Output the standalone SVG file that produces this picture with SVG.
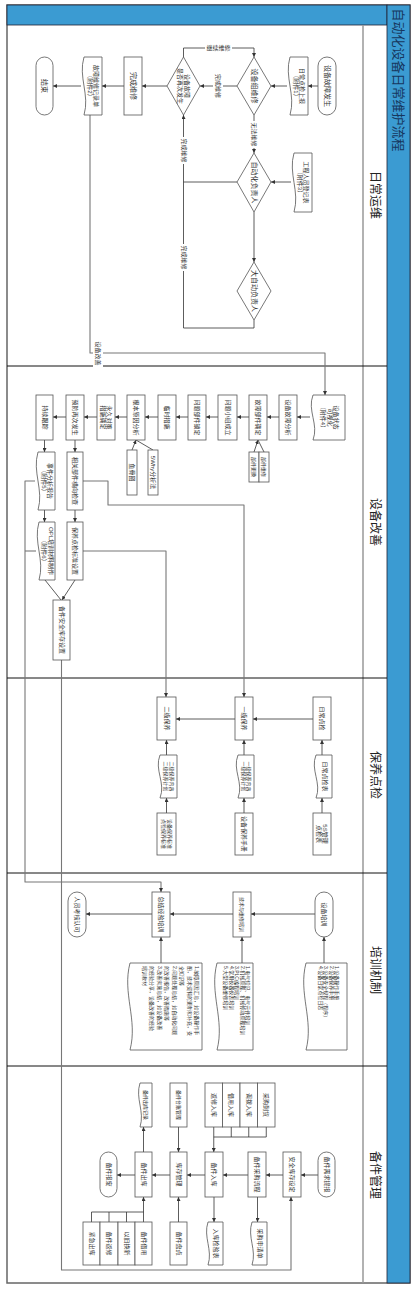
<svg xmlns="http://www.w3.org/2000/svg" width="417" height="1291" viewBox="0 0 417 1291">
<style>
.n{fill:#fff;stroke:#555;stroke-width:0.8}
.t{font-family:"Liberation Sans","Noto Sans CJK SC",sans-serif;font-size:6px;fill:#333;text-anchor:middle;dominant-baseline:central}
.t7{font-size:7px}
.t5{font-size:5px}
.ts{text-anchor:start}
.c{fill:none;stroke:#333;stroke-width:0.8;marker-end:url(#a)}
.l{fill:none;stroke:#333;stroke-width:0.8}
.g{fill:none;stroke:#777;stroke-width:1.1;stroke-linejoin:round}
.ga{marker-end:url(#a)}
.lb{fill:#fff;stroke:none}
.lane{font-family:"Liberation Sans","Noto Sans CJK SC",sans-serif;font-size:12px;fill:#222;text-anchor:middle;dominant-baseline:central}
</style>
<defs>
<marker id="a" markerWidth="4" markerHeight="4" refX="4" refY="2" orient="auto" markerUnits="userSpaceOnUse"><path d="M0,0 L4,2 L0,4 Z" fill="#333"/></marker>
</defs>
<rect x="0" y="0" width="417" height="1291" fill="#fff"/>
<g id="frame">
<rect x="7" y="5" width="403" height="1278" fill="#fff" stroke="#666" stroke-width="1.5"/>
<rect x="7" y="5" width="380" height="20" fill="#3B9BD2" stroke="#223" stroke-width="0.8"/>
<rect x="387" y="5" width="23" height="1278" fill="#3B9BD2" stroke="#223" stroke-width="0.8"/>
<line x1="363" y1="25" x2="363" y2="1283" stroke="#999" stroke-width="1.5"/>
<g stroke="#111" stroke-width="1">
<line x1="7" y1="366" x2="387" y2="366"/>
<line x1="7" y1="678" x2="387" y2="678"/>
<line x1="7" y1="873" x2="387" y2="873"/>
<line x1="7" y1="1066" x2="387" y2="1066"/>
</g>
<text class="lane" transform="translate(398.5,80) rotate(90)" style="font-size:13px;fill:#17375E">自动化设备日常维护流程</text>
<text class="lane" transform="translate(375,195) rotate(90)">日常运维</text>
<text class="lane" transform="translate(375,522) rotate(90)">设备改善</text>
<text class="lane" transform="translate(375,775) rotate(90)">保养点检</text>
<text class="lane" transform="translate(375,970) rotate(90)">培训机制</text>
<text class="lane" transform="translate(375,1175) rotate(90)">备件管理</text>
</g>

<g id="connectors">
<path class="c" d="M318,86 H308"/>
<path class="c" d="M287,86 H271"/>
<path class="c" d="M237,86 H200"/>
<path class="c" d="M167,86 H142"/>
<path class="c" d="M124,86 H102"/>
<path class="c" d="M81,86 H53"/>
<path class="c" d="M183.5,57 V48 H254 V57"/>
<path class="c" d="M254,115 V153"/>
<path class="c" d="M291,182 H271"/>
<path class="c" d="M237,182 H183.5 V115"/>
<path class="c" d="M254,212 V262"/>
<path class="l" d="M254,320 V328 H183.5 V182"/>
<path class="g ga" d="M90,115 V353 H325 V395"/>
<path class="c" d="M310,417 H297"/>
<path class="c" d="M279,417 H267"/>
<path class="c" d="M249,417 H237"/>
<path class="c" d="M218,417 H206"/>
<path class="c" d="M188,417 H176"/>
<path class="c" d="M158,417 H145"/>
<path class="c" d="M127,417 H115"/>
<path class="c" d="M97,417 H84"/>
<path class="c" d="M66,417 H53"/>
<path class="c" d="M254,452 L258,440"/>
<path class="l" d="M264,452 L258,440"/>
<path class="c" d="M132,450 L136,440"/>
<path class="l" d="M153,450 L136,440"/>
<path class="c" d="M75,440 V452"/>
<path class="c" d="M44.5,440 V452"/>
<path class="c" d="M75,510 V522"/>
<path class="c" d="M44.5,510 V522"/>
<path class="c" d="M75,580 L62,600"/>
<path class="l" d="M45,580 L61,600"/>
<path class="g ga" d="M83,481 H108 V505 H244 V697"/>
<path class="g ga" d="M83,551 H166 V697"/>
<path class="g ga" d="M35,481 H25 V882 H161 V892"/>
<path class="g" d="M36,551 H25"/>
<path class="g ga" d="M61.5,660 V1270 H291 V1197"/>
<path class="c" d="M313,719 H253"/>
<path class="c" d="M235,719 H176"/>
<path class="c" d="M322,813 V798"/>
<path class="c" d="M322,755 V740"/>
<path class="c" d="M244,813 V798"/>
<path class="c" d="M244,755 V740"/>
<path class="c" d="M166.5,813 V798"/>
<path class="c" d="M166.5,755 V740"/>
<path class="c" d="M315,914 H251"/>
<path class="c" d="M233,914 H170"/>
<path class="c" d="M152,914 H86"/>
<path class="c" d="M324,963 V937"/>
<path class="c" d="M242,963 V937"/>
<path class="c" d="M161,963 V937"/>
<path class="c" d="M318,1175 H301"/>
<path class="c" d="M283,1175 H266"/>
<path class="c" d="M248,1175 H223"/>
<path class="c" d="M205,1175 H187"/>
<path class="c" d="M170,1175 H152"/>
<path class="c" d="M135,1175 H117"/>
<path class="c" d="M213.75,1127 V1152"/>
<path class="l" d="M266.25,1127 V1137 H213.75 M231.25,1127 V1137 M248.75,1127 V1137"/>
<path class="c" d="M178.5,1127 V1152"/>
<path class="c" d="M143.5,1152 V1127"/>
<path class="c" d="M143.5,1222 V1197"/>
<path class="l" d="M91.5,1222 V1212 H143.5 M109,1222 V1212 M126.5,1222 V1212"/>
<path class="c" d="M178.5,1222 V1197"/>
<path class="c" d="M214,1197 V1222"/>
<path class="c" d="M257.5,1197 V1222"/>
<rect class="lb" x="213" y="71" width="10" height="30"/>
<text class="t" transform="translate(218,86) rotate(90)">完成维修</text>
<rect class="lb" x="249" y="121" width="10" height="27"/>
<text class="t" transform="translate(254,134.5) rotate(90)">无法维修</text>
<rect class="lb" x="178.5" y="137" width="10" height="27"/>
<text class="t" transform="translate(183.5,150.5) rotate(90)">完成维修</text>
<rect class="lb" x="178.5" y="244" width="10" height="27"/>
<text class="t" transform="translate(183.5,257.5) rotate(90)">完成维修</text>
<rect class="lb" x="205" y="44" width="27" height="8"/>
<text class="t" x="218.5" y="48">继续维修</text>
<rect class="lb" x="93" y="340" width="10" height="27"/>
<text class="t" transform="translate(98,353.5) rotate(90)">设备改善</text>
</g>

<g id="n-fault"><rect class="n" x="318" y="57" width="18" height="58" rx="9"/><text class="t t7" transform="translate(327,86) rotate(90)">设备故障发生</text></g>
<g id="n-report1"><path class="n" d="M290,57 H308 V115 H290 C296,94.7 284,77.3 290,57 Z"/><text class="t" transform="translate(299,86) rotate(90)"><tspan x="0" dy="-3">日常点检上报</tspan><tspan x="0" dy="6.5">（附件1）</tspan></text></g>
<g id="n-repair"><path class="n" d="M254,57 L271,86 L254,115 L237,86 Z"/><text class="t t7" transform="translate(254,86) rotate(90)">设备组维修</text></g>
<g id="n-again"><path class="n" d="M183.5,57 L200,86 L183.5,115 L167,86 Z"/><text class="t" transform="translate(183.5,86) rotate(90)"><tspan x="0" dy="-3.5">设备故障</tspan><tspan x="0" dy="7">是否再次发生</tspan></text></g>
<g id="n-done"><rect class="n" x="124" y="57" width="18" height="58"/><text class="t t7" transform="translate(133,86) rotate(90)">完成维修</text></g>
<g id="n-record"><path class="n" d="M84,57 H102 V115 H84 C90,94.7 78,77.3 84,57 Z"/><text class="t" transform="translate(93,86) rotate(90)"><tspan x="0" dy="-3">故障维修记录单</tspan><tspan x="0" dy="6.5">（附件2）</tspan></text></g>
<g id="n-end"><rect class="n" x="36" y="57" width="17" height="58" rx="8.5"/><text class="t t7" transform="translate(44.5,86) rotate(90)">结束</text></g>
<g id="n-auto"><path class="n" d="M254,153 L271,182 L254,212 L237,182 Z"/><text class="t t7" transform="translate(254,182.5) rotate(90)">自动化负责人</text></g>
<g id="n-report3"><path class="n" d="M294,153 H312 V212 H294 C300,191.35 288,173.65 294,153 Z"/><text class="t" transform="translate(303,182.5) rotate(90)"><tspan x="0" dy="-3">工程人员登记表</tspan><tspan x="0" dy="6.5">（附件3）</tspan></text></g>
<g id="n-big"><path class="n" d="M254,262 L271,291 L254,320 L237,291 Z"/><text class="t t7" transform="translate(254,291) rotate(90)">大自动负责人</text></g>

<g id="n-vis"><path class="n" d="M313,395 H345 V440 H313 C319,424.25 307,410.75 313,395 Z"/><text class="t" transform="translate(329.5,417.5) rotate(90)"><tspan x="0" dy="-6.5">设备状态</tspan><tspan x="0" dy="6.5">可视化</tspan><tspan x="0" dy="6.5">（附件4）</tspan></text></g>
<g id="n-ana"><rect class="n" x="279" y="395" width="18" height="45"/><text class="t" transform="translate(288,417.5) rotate(90)">设备故障分析</text></g>
<g id="n-part"><rect class="n" x="249" y="395" width="18" height="45"/><text class="t" transform="translate(258,417.5) rotate(90)">故障部件确定</text></g>
<g id="n-team"><rect class="n" x="218" y="395" width="19" height="45"/><text class="t" transform="translate(227.5,417.5) rotate(90)">问题小组成立</text></g>
<g id="n-lock"><rect class="n" x="188" y="395" width="18" height="45"/><text class="t" transform="translate(197,417.5) rotate(90)">问题部件锁定</text></g>
<g id="n-temp"><rect class="n" x="158" y="395" width="18" height="45"/><text class="t" transform="translate(167,417.5) rotate(90)">临时措施</text></g>
<g id="n-root"><rect class="n" x="127" y="395" width="18" height="45"/><text class="t" transform="translate(136,417.5) rotate(90)">根本原因分析</text></g>
<g id="n-perm"><rect class="n" x="97" y="395" width="18" height="45"/><text class="t" transform="translate(106,417.5) rotate(90)"><tspan x="0" dy="-3">永久对策</tspan><tspan x="0" dy="6.5">措施确定</tspan></text></g>
<g id="n-prev"><rect class="n" x="66" y="395" width="18" height="45"/><text class="t" transform="translate(75,417.5) rotate(90)">预防再次发生</text></g>
<g id="n-track"><rect class="n" x="36" y="395" width="17" height="45"/><text class="t" transform="translate(44.5,417.5) rotate(90)">持续跟踪</text></g>
<g id="n-chg"><rect class="n" x="249" y="452" width="10" height="30"/><text class="t t5" transform="translate(254,467) rotate(90)">部件更换</text></g>
<g id="n-fix"><rect class="n" x="259" y="452" width="10" height="30"/><text class="t t5" transform="translate(264,467) rotate(90)">部件维修</text></g>
<g id="n-fish"><rect class="n" x="127" y="450" width="10" height="45"/><text class="t" transform="translate(132,472.5) rotate(90)">鱼骨图</text></g>
<g id="n-5why"><rect class="n" x="148" y="450" width="10" height="45"/><text class="t" transform="translate(153,472.5) rotate(90)">5Why分析法</text></g>
<g id="n-cross"><rect class="n" x="67" y="452" width="16" height="58"/><text class="t" transform="translate(75,481) rotate(90)">相关部件横向检查</text></g>
<g id="n-rep5"><path class="n" d="M38,452 H55 V510 H38 C44,489.7 32,472.3 38,452 Z"/><text class="t" transform="translate(47,481) rotate(90)"><tspan x="0" dy="-3">事件分析报告</tspan><tspan x="0" dy="6.5">（附件5）</tspan></text></g>
<g id="n-std"><rect class="n" x="67" y="522" width="16" height="58"/><text class="t" transform="translate(75,551) rotate(90)">保养点检标准设置</text></g>
<g id="n-opl"><path class="n" d="M39,522 H55 V580 H39 C45,559.7 33,542.3 39,522 Z"/><text class="t" transform="translate(47.5,551) rotate(90)"><tspan x="0" dy="-3">OPL培训材料制作</tspan><tspan x="0" dy="6.5">（附件6）</tspan></text></g>
<g id="n-safe"><rect class="n" x="53" y="600" width="17" height="60"/><text class="t" transform="translate(61.5,630) rotate(90)">备件安全库存设置</text></g>

<g id="n-daily"><rect class="n" x="313" y="697" width="18" height="43"/><text class="t" transform="translate(322,718.5) rotate(90)">日常点检</text></g>
<g id="n-lv1"><rect class="n" x="235" y="697" width="18" height="43"/><text class="t" transform="translate(244,718.5) rotate(90)">一级保养</text></g>
<g id="n-lv2"><rect class="n" x="157" y="697" width="19" height="43"/><text class="t" transform="translate(166.5,718.5) rotate(90)">二级保养</text></g>
<g id="n-dtab"><path class="n" d="M316,755 H332 V798 H316 C322,783 310,770 316,755 Z"/><text class="t" transform="translate(324.5,776.5) rotate(90)">日常点检表</text></g>
<g id="n-l1doc"><path class="n" d="M238,755 H254 V798 H238 C244,783 232,770 238,755 Z"/><text class="t t5" transform="translate(246.5,776.5) rotate(90)"><tspan x="0" dy="-2.8">一级保养内容</tspan><tspan x="0" dy="5.6">一级保养计划</tspan></text></g>
<g id="n-l2doc"><path class="n" d="M160,755 H177 V798 H160 C166,783 154,770 160,755 Z"/><text class="t t5" transform="translate(169,776.5) rotate(90)"><tspan x="0" dy="-2.8">二级保养内容</tspan><tspan x="0" dy="5.6">二级保养计划</tspan></text></g>
<g id="n-5s"><rect class="n" x="313" y="813" width="18" height="42"/><text class="t" transform="translate(322,834) rotate(90)"><tspan x="0" dy="-3">5S管理</tspan><tspan x="0" dy="6.5">点检表</tspan></text></g>
<g id="n-man"><rect class="n" x="235" y="813" width="18" height="42"/><text class="t" transform="translate(244,834) rotate(90)">设备保养手册</text></g>
<g id="n-mstd"><rect class="n" x="157" y="813" width="19" height="42"/><text class="t t5" transform="translate(166.5,834) rotate(90)"><tspan x="0" dy="-3">设备保养标准</tspan><tspan x="0" dy="6">点检保养标准</tspan></text></g>

<g id="n-train"><rect class="n" x="315" y="892" width="18" height="45" rx="9"/><text class="t" transform="translate(324,914.5) rotate(90)">设备培训</text></g>
<g id="n-skill"><rect class="n" x="233" y="892" width="18" height="45"/><text class="t t5" transform="translate(242,914.5) rotate(90)">技术与维修培训</text></g>
<g id="n-sum"><rect class="n" x="152" y="892" width="18" height="45"/><text class="t" transform="translate(161,914.5) rotate(90)">总结经验培训</text></g>
<g id="n-eval"><rect class="n" x="68" y="892" width="18" height="45" rx="9"/><text class="t" transform="translate(77,914.5) rotate(90)">人员考核认可</text></g>
<g id="n-tdoc1"><path class="n" d="M306,963 H347 V1050 H306 C314,1019.5 298,993.5 306,963 Z"/><text class="t t5 ts" transform="translate(337,966) rotate(90)"><tspan x="0" dy="0">1.设备操作手册</tspan><tspan x="0" dy="5.5">2.设备保养手册</tspan><tspan x="0" dy="5.5">3.设备安全规程（程序）</tspan><tspan x="0" dy="5.5">4.设备日常点检日志</tspan></text></g>
<g id="n-tdoc2"><path class="n" d="M217,963 H253 V1050 H217 C225,1019.5 209,993.5 217,963 Z"/><text class="t t5 ts" transform="translate(248,966) rotate(90)"><tspan x="0" dy="0">1.电气知识、电气元件培训</tspan><tspan x="0" dy="5.5">2.机械原理、机械传动原理培训</tspan><tspan x="0" dy="5.5">3.PLC编程培训</tspan><tspan x="0" dy="5.5">4.常用仪器仪表培训</tspan><tspan x="0" dy="5.5">5.大型设备维修培训</tspan></text></g>
<g id="n-tdoc3"><path class="n" d="M130,963 H202 V1050 H130 C138,1019.5 122,993.5 130,963 Z"/><text class="t t5 ts" transform="translate(197,966) rotate(90)"><tspan x="0" dy="0">1.故障原因汇总，如设备操作手</tspan><tspan x="0" dy="7.5">册，技术资料的更新和补充，安</tspan><tspan x="0" dy="7.5">全知识等</tspan><tspan x="0" dy="7.5">2.问题处理总结，如自动化问题</tspan><tspan x="0" dy="7.5">的改善报告，改善措施等</tspan><tspan x="0" dy="7.5">3.改善实施总结，如设备改善</tspan><tspan x="0" dy="7.5">的经验分享，设备改善的经验</tspan><tspan x="0" dy="7.5">培训教材</tspan></text></g>

<g id="n-req"><rect class="n" x="318" y="1152" width="17" height="45" rx="8.5"/><text class="t" transform="translate(326.5,1174.5) rotate(90)">备件需求提报</text></g>
<g id="n-safeset"><rect class="n" x="283" y="1152" width="18" height="45"/><text class="t" transform="translate(292,1174.5) rotate(90)">安全库存设定</text></g>
<g id="n-buy"><rect class="n" x="248" y="1152" width="18" height="45"/><text class="t" transform="translate(257,1174.5) rotate(90)">备件采购流程</text></g>
<g id="n-in"><rect class="n" x="205" y="1152" width="18" height="45"/><text class="t" transform="translate(214,1174.5) rotate(90)">备件入库</text></g>
<g id="n-stock"><rect class="n" x="170" y="1152" width="17" height="45"/><text class="t" transform="translate(178.5,1174.5) rotate(90)">库存管理</text></g>
<g id="n-out"><rect class="n" x="135" y="1152" width="17" height="45"/><text class="t" transform="translate(143.5,1174.5) rotate(90)">备件出库</text></g>
<g id="n-scrap"><rect class="n" x="100" y="1152" width="17" height="45" rx="8.5"/><text class="t" transform="translate(108.5,1174.5) rotate(90)">备件报废</text></g>
<g id="n-outdoc"><path class="n" d="M140,1083 H152 V1127 H140 C145,1111.6 135,1098.4 140,1083 Z"/><text class="t t5" transform="translate(146,1105) rotate(90)">备件出库记录</text></g>
<g id="n-ledger"><rect class="n" x="170" y="1083" width="17" height="44"/><text class="t t5" transform="translate(178.5,1105) rotate(90)">备件台账管理</text></g>
<g id="n-in1"><rect class="n" x="205" y="1083" width="17.5" height="44"/><text class="t" transform="translate(213.75,1105) rotate(90)">返修入库</text></g>
<g id="n-in2"><rect class="n" x="222.5" y="1083" width="17.5" height="44"/><text class="t" transform="translate(231.25,1105) rotate(90)">借用入库</text></g>
<g id="n-in3"><rect class="n" x="240" y="1083" width="17.5" height="44"/><text class="t" transform="translate(248.75,1105) rotate(90)">调拨入库</text></g>
<g id="n-in4"><rect class="n" x="257.5" y="1083" width="17.5" height="44"/><text class="t" transform="translate(266.25,1105) rotate(90)">采购到货</text></g>
<g id="n-o1"><rect class="n" x="83" y="1222" width="17" height="43"/><text class="t" transform="translate(91.5,1243.5) rotate(90)">紧急出库</text></g>
<g id="n-o2"><rect class="n" x="100" y="1222" width="18" height="43"/><text class="t" transform="translate(109,1243.5) rotate(90)">备件返修</text></g>
<g id="n-o3"><rect class="n" x="118" y="1222" width="17" height="43"/><text class="t" transform="translate(126.5,1243.5) rotate(90)">以旧换新</text></g>
<g id="n-o4"><rect class="n" x="135" y="1222" width="17" height="43"/><text class="t" transform="translate(143.5,1243.5) rotate(90)">备件借用</text></g>
<g id="n-count"><rect class="n" x="170" y="1222" width="17" height="43"/><text class="t" transform="translate(178.5,1243.5) rotate(90)">备件盘点</text></g>
<g id="n-check"><path class="n" d="M208,1222 H223 V1265 H208 C213,1250 203,1237 208,1222 Z"/><text class="t" transform="translate(215.5,1243.5) rotate(90)">入库检验表</text></g>
<g id="n-po"><path class="n" d="M252,1222 H267 V1265 H252 C257,1250 247,1237 252,1222 Z"/><text class="t" transform="translate(259.5,1243.5) rotate(90)">采购申请单</text></g>
</svg>
